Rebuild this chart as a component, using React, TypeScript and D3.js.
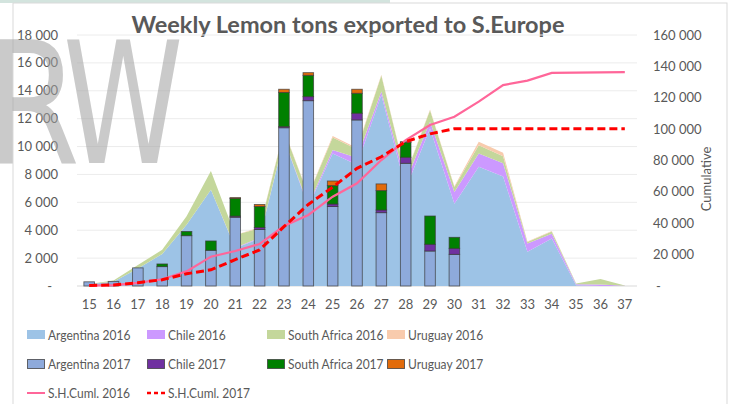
import React from "react";
import * as d3 from "d3";

// week numbers on the category axis
const weeks = ["15", "16", "17", "18", "19", "20", "21", "22", "23", "24", "25", "26", "27", "28", "29", "30", "31", "32", "33", "34", "35", "36", "37"];

// 2016 weekly tons (stacked areas)
const arg2016 = [150, 300, 1250, 2300, 4400, 6900, 2700, 3400, 10500, 5700, 9500, 8700, 13700, 7000, 11300, 5900, 8550, 7850, 2450, 3400, 50, 0, 0];
const chile2016 = [0, 0, 0, 0, 0, 0, 50, 50, 50, 100, 250, 500, 250, 500, 500, 850, 950, 950, 600, 350, 80, 100, 20];
const sa2016 = [0, 100, 250, 300, 600, 1350, 900, 700, 600, 700, 900, 600, 1150, 450, 800, 350, 600, 500, 100, 150, 50, 400, 20];
const uru2016 = [0, 0, 0, 0, 0, 0, 0, 50, 50, 50, 100, 100, 50, 50, 50, 50, 250, 250, 50, 50, 0, 0, 0];

// 2017 weekly tons (stacked bars, weeks 15-30)
const barWeeks = ["15", "16", "17", "18", "19", "20", "21", "22", "23", "24", "25", "26", "27", "28", "29", "30"];
const arg2017 = [300, 330, 1300, 1390, 3610, 2560, 4930, 4050, 11350, 13290, 5700, 11910, 5260, 8800, 2510, 2270];
const chile2017 = [0, 0, 0, 0, 0, 0, 80, 150, 80, 290, 180, 480, 190, 430, 480, 430];
const sa2017 = [0, 0, 0, 190, 300, 670, 1270, 1500, 2450, 1530, 1320, 1430, 1390, 1070, 2030, 790];
const uru2017 = [0, 0, 0, 0, 0, 0, 60, 150, 230, 190, 330, 290, 480, 50, 0, 0];

// southern hemisphere cumulative (right axis)
const cum2016 = [300, 600, 2000, 4300, 9300, 18700, 22300, 26800, 38200, 45300, 56900, 65500, 80300, 93000, 102600, 107900, 117500, 128100, 130900, 135800, 136000, 136200, 136300];
const cum2017 = [300, 650, 2100, 4000, 7800, 10300, 16800, 23000, 37800, 52000, 63000, 75000, 82400, 92000, 97000, 100300, 100300, 100300, 100300, 100300, 100300, 100300, 100300];

const leftTicks = [0, 2000, 4000, 6000, 8000, 10000, 12000, 14000, 16000, 18000];
const rightTicks = [0, 20000, 40000, 60000, 80000, 100000, 120000, 140000, 160000];

const FONT = "Lato, 'Liberation Sans', sans-serif";
const GREY = "#595959";

const fmt = (v: number) => (v === 0 ? "-" : d3.format(",")(v).replace(/,/g, " "));

export default function App() {
  const x = d3.scaleBand<string>().domain(weeks).range([77, 637]);
  const xb = d3.scaleBand<string>().domain(weeks).range([77, 637]).paddingInner(0.565).paddingOuter(0.2825);
  const y = d3.scaleLinear().domain([0, 18000]).range([286, 35]);
  const y2 = d3.scaleLinear().domain([0, 160000]).range([286, 35]);
  const cx = (w: string) => (x(w) as number) + x.bandwidth() / 2;

  const areaRows = weeks.map((w, i) => ({ week: w, arg: arg2016[i], chile: chile2016[i], sa: sa2016[i], uru: uru2016[i] }));
  const keys = ["arg", "chile", "sa", "uru"];
  const areaColors: Record<string, string> = { arg: "#9dc3e6", chile: "#cc99ff", sa: "#c4d79b", uru: "#f8cbad" };
  const areaSeries = d3.stack<any>().keys(keys)(areaRows);
  const area = d3.area<any>()
    .x((d) => cx(d.data.week))
    .y0((d) => y(d[0]))
    .y1((d) => y(d[1]));

  const barRows = barWeeks.map((w, i) => ({ week: w, arg: arg2017[i], chile: chile2017[i], sa: sa2017[i], uru: uru2017[i] }));
  const barColors: Record<string, string> = { arg: "#8eaadb", chile: "#7030a0", sa: "#008000", uru: "#e26b0a" };
  const barSeries = d3.stack<any>().keys(keys)(barRows);

  const line = d3.line<number>()
    .x((_, i) => cx(weeks[i]))
    .y((d) => y2(d));

  const legendRows = [
    [
      { label: "Argentina 2016", kind: "area", color: areaColors.arg },
      { label: "Chile 2016", kind: "area", color: areaColors.chile },
      { label: "South Africa 2016", kind: "area", color: areaColors.sa },
      { label: "Uruguay 2016", kind: "area", color: areaColors.uru },
    ],
    [
      { label: "Argentina 2017", kind: "bar", color: barColors.arg },
      { label: "Chile 2017", kind: "bar", color: barColors.chile },
      { label: "South Africa 2017", kind: "bar", color: barColors.sa },
      { label: "Uruguay 2017", kind: "bar", color: barColors.uru },
    ],
    [
      { label: "S.H.Cuml. 2016", kind: "line", color: "#ff6699" },
      { label: "S.H.Cuml. 2017", kind: "dash", color: "#ff0000" },
    ],
  ];
  const legendX = [27, 147, 267, 387];
  const legendY = [335, 364, 393];

  return (
    <svg width={736} height={404} style={{ position: "absolute", left: 0, top: 0, background: "#fff" }} fontFamily={FONT}>
      <rect x={0} y={0} width={390} height={3} fill="#d3e4de" />
      <rect x={13} y={3} width={714} height={420} fill="#fff" stroke="#d9d9d9" />

      {/* title */}
      <text x={348} y={33} textAnchor="middle" fontSize={23.5} fontWeight={700} fill={GREY}>
        Weekly Lemon tons exported to S.Europe
      </text>

      {/* gridlines */}
      {leftTicks.map((t) => (
        <line key={t} x1={77} x2={637} y1={y(t)} y2={y(t)} stroke={t === 0 ? "#d9d9d9" : "#ececec"} strokeWidth={1} />
      ))}

      {/* 2016 stacked areas */}
      {areaSeries.map((s) => (
        <path key={s.key} d={area(s) as string} fill={areaColors[s.key]} />
      ))}

      {/* 2017 stacked bars */}
      {barSeries.map((s) =>
        s.map((d: any) =>
          d[1] - d[0] > 0 ? (
            <rect
              key={s.key + d.data.week}
              x={xb(d.data.week)}
              width={xb.bandwidth()}
              y={y(d[1])}
              height={y(d[0]) - y(d[1])}
              fill={barColors[s.key]}
              stroke="#3a3a3a"
              strokeOpacity={0.75}
              strokeWidth={0.9}
            />
          ) : null
        )
      )}

      {/* cumulative lines */}
      <path d={line(cum2016) as string} fill="none" stroke="#ff6699" strokeWidth={2.2} />
      <path d={line(cum2017) as string} fill="none" stroke="#ff0000" strokeWidth={3} strokeDasharray="8,4" />

      {/* left axis */}
      {leftTicks.map((t) => (
        <text key={t} x={t === 0 ? 52 : 58} y={y(t) + 4.5} textAnchor="end" fontSize={13} fill={GREY}>
          {fmt(t)}
        </text>
      ))}

      {/* right axis */}
      {rightTicks.map((t) => (
        <text key={t} x={t === 0 ? 656 : 653} y={y2(t) + 4.5} textAnchor="start" fontSize={13} fill={GREY}>
          {fmt(t)}
        </text>
      ))}
      <text transform="translate(711,179) rotate(-90)" textAnchor="middle" fontSize={13} fill={GREY}>
        Cumulative
      </text>

      {/* x axis */}
      {weeks.map((w) => (
        <text key={w} x={cx(w)} y={309} textAnchor="middle" fontSize={13} fill={GREY}>
          {w}
        </text>
      ))}

      {/* legend */}
      {legendRows.map((row, r) =>
        row.map((e, c) => (
          <g key={e.label} transform={`translate(${legendX[c]},${legendY[r]})`}>
            {e.kind === "area" && <rect x={0} y={-5} width={18} height={9} fill={e.color} />}
            {e.kind === "bar" && <rect x={0.5} y={-4.5} width={17} height={9} fill={e.color} stroke="#3a3a3a" strokeOpacity={0.75} />}
            {e.kind === "line" && <line x1={0} x2={18} y1={0} y2={0} stroke={e.color} strokeWidth={2} />}
            {e.kind === "dash" && <line x1={0} x2={18} y1={0} y2={0} stroke={e.color} strokeWidth={2.5} strokeDasharray="4,3" />}
            <text transform="translate(21,5) scale(0.87,1)" fontSize={13.8} fill={GREY}>
              {e.label}
            </text>
          </g>
        ))
      )}

      {/* watermark */}
      <g fill="#a0a0a0" opacity={0.55} fontFamily="'DejaVu Sans', sans-serif" fontSize={169}>
        <text transform="translate(-14,163) scale(0.8,1)">R</text>
        <text transform="translate(63,163) scale(0.72,1)">W</text>
      </g>
    </svg>
  );
}
